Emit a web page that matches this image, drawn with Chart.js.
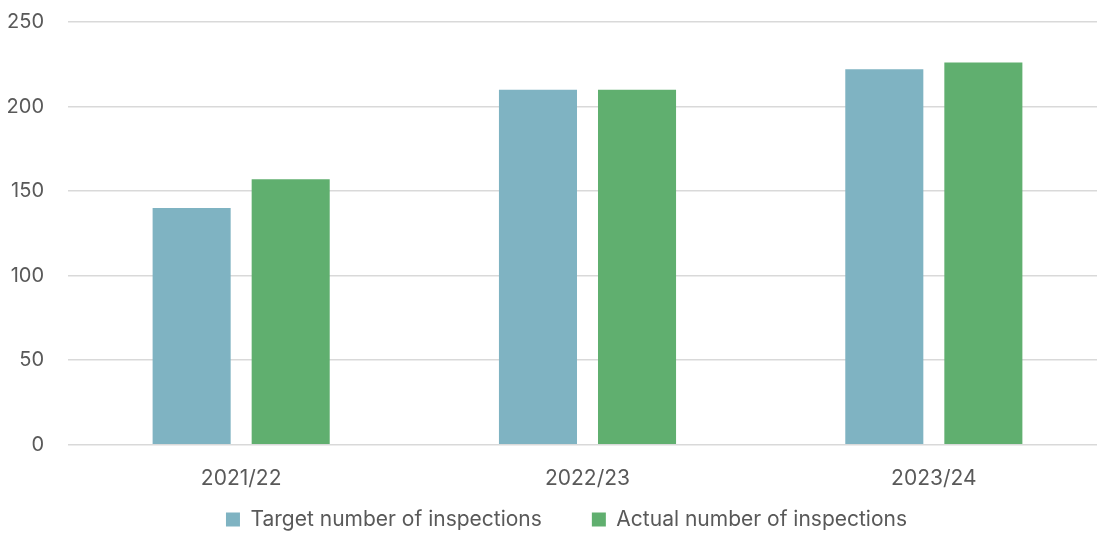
<!DOCTYPE html>
<html>
<head>
<meta charset="utf-8">
<script src="https://cdn.jsdelivr.net/npm/chart.js@4/dist/chart.umd.min.js"></script>
<style>
  html, body { margin: 0; padding: 0; background: #fff; overflow: hidden; }
  #wrap { width: 1107px; height: 533px; position: relative; }
</style>
</head>
<body>
<div id="wrap"><canvas id="inspectionsChart"></canvas></div>
<script>
const years = ['2021/22', '2022/23', '2023/24'];
const targetInspections = [140, 210, 222];
const actualInspections = [157, 210, 226];
const yTicks = [0, 50, 100, 150, 200, 250];

const textColor = '#595959';
const fontFamily = 'Inter, "Noto Sans", sans-serif';

// The legend uses a large padding to space its two items apart, which would
// also make it very tall. Reserve only a short strip for it in the layout and
// then let it draw upwards over the spare room under the x labels.
const LEGEND_SLOT = 36;
const LEGEND_SHIFT_X = 13;
const compactLegend = {
    id: 'compactLegend',
    beforeLayout(chart) {
        const legend = chart.legend;
        if (!legend || legend._compactFit) return;
        const fit = legend.fit;
        legend.fit = function() {
            fit.call(this);
            this._fullHeight = this.height;
            this.height = LEGEND_SLOT;
        };
        legend._compactFit = true;
    },
    afterLayout(chart) {
        const legend = chart.legend;
        if (!legend || !legend._fullHeight) return;
        legend.top = legend.bottom - legend._fullHeight;
        legend.left += LEGEND_SHIFT_X;
        legend.right += LEGEND_SHIFT_X;
    }
};

const ctx = document.getElementById('inspectionsChart').getContext('2d');
new Chart(ctx, {
    type: 'bar',
    data: {
        labels: years,
        datasets: [
            {
                label: 'Target number of inspections',
                data: targetInspections,
                backgroundColor: '#7FB3C2',
                categoryPercentage: 0.572,
                barPercentage: 0.788
            },
            {
                label: 'Actual number of inspections',
                data: actualInspections,
                backgroundColor: '#60AF6F',
                categoryPercentage: 0.572,
                barPercentage: 0.788
            }
        ]
    },
    plugins: [compactLegend],
    options: {
        responsive: true,
        maintainAspectRatio: false,
        animation: false,
        layout: { padding: { top: 22, left: 0, right: 0, bottom: -7 } },
        plugins: {
            tooltip: { enabled: false },
            legend: {
                position: 'bottom',
                labels: {
                    color: textColor,
                    font: { family: fontFamily, size: 21 },
                    boxWidth: 14,
                    boxHeight: 14,
                    padding: 50,
                    useBorderRadius: false
                }
            }
        },
        scales: {
            x: {
                grid: { display: false },
                border: { display: false },
                ticks: {
                    color: textColor,
                    font: { family: fontFamily, size: 21 },
                    padding: 13
                }
            },
            y: {
                min: 0,
                max: 250,
                afterBuildTicks: axis => {
                    axis.ticks = yTicks.map(v => ({ value: v }));
                },
                afterFit: axis => {
                    axis.width = 68;
                    axis.paddingTop = 0;
                    axis.paddingBottom = 0;
                },
                grid: { color: '#d9d9d9', lineWidth: 1.5, drawTicks: false },
                border: { display: false },
                ticks: {
                    color: textColor,
                    font: { family: fontFamily, size: 20 },
                    padding: 24
                }
            }
        }
    }
});
</script>
</body>
</html>
